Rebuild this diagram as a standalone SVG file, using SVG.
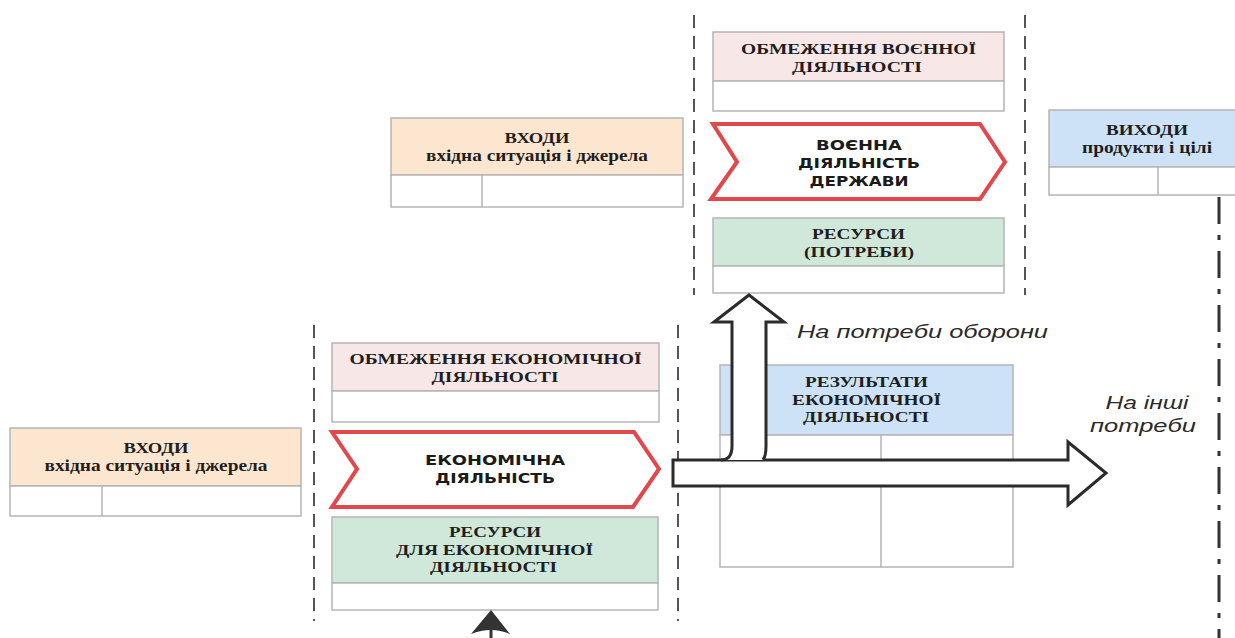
<svg xmlns="http://www.w3.org/2000/svg" width="1235" height="638" viewBox="0 0 1235 638">
<style>
.bx{stroke:#b5b5b5;stroke-width:1.5;fill:#fff}
.pink{fill:#f8e7e7;stroke:#b5b5b5;stroke-width:1.5}
.peach{fill:#fde6cf;stroke:#b5b5b5;stroke-width:1.5}
.green{fill:#cfe8d9;stroke:#b5b5b5;stroke-width:1.5}
.blue{fill:#cde2f6;stroke:#b5b5b5;stroke-width:1.5}
.ln{stroke:#b5b5b5;stroke-width:1.5;fill:none}
.chev{fill:#fff;stroke:#e2474b;stroke-width:4;stroke-linejoin:miter}
.hd{font-family:"Liberation Serif","Times New Roman",serif;font-weight:bold;font-size:15px;fill:#1e1e1e;text-anchor:middle}
.sub{font-family:"Liberation Serif","Times New Roman",serif;font-weight:bold;font-size:16px;fill:#1e1e1e;text-anchor:middle}
.ch{font-family:"DejaVu Sans",Verdana,sans-serif;font-weight:bold;font-size:14px;fill:#1a1a1a;text-anchor:middle}
.it{font-family:"Liberation Sans",Arial,sans-serif;font-style:italic;font-size:18px;fill:#2a2a2a;text-anchor:middle}
.dash{stroke:#555;stroke-width:2;stroke-dasharray:13 8;fill:none}
.dashdot{stroke:#333;stroke-width:3;stroke-dasharray:27 11 5 11;fill:none}
.arr{fill:#fff;stroke:#2b2b2b;stroke-width:3;stroke-linejoin:miter}
</style>

<g id="boundaries">
<line class="dash" x1="694" y1="15" x2="694" y2="295"/>
<line class="dash" x1="1025" y1="15" x2="1025" y2="295"/>
<line class="dash" x1="314" y1="325" x2="314" y2="621"/>
<line class="dash" x1="678" y1="325" x2="678" y2="621"/>
<line class="dashdot" x1="1219" y1="197" x2="1219" y2="638"/>
</g>

<g id="top-inputs">
<rect class="peach" x="391" y="118" width="292" height="57"/>
<rect class="bx" x="391" y="175" width="292" height="32"/>
<line class="ln" x1="482" y1="175" x2="482" y2="207"/>
<text class="hd" x="537" y="143" textLength="65" lengthAdjust="spacingAndGlyphs">ВХОДИ</text>
<text class="sub" x="537" y="161" textLength="222" lengthAdjust="spacingAndGlyphs">вхідна ситуація і джерела</text>
</g>

<g id="military-constraints">
<rect class="pink" x="713" y="32" width="291" height="49"/>
<rect class="bx" x="713" y="81" width="291" height="30"/>
<text class="hd" x="858.5" y="54" textLength="235" lengthAdjust="spacingAndGlyphs">ОБМЕЖЕННЯ ВОЄННОЇ</text>
<text class="hd" x="857" y="72" textLength="130" lengthAdjust="spacingAndGlyphs">ДІЯЛЬНОСТІ</text>
</g>

<g id="military-activity">
<path class="chev" d="M713,124 L980,124 L1005,162 L980,199 L711,199 L737,162 Z"/>
<text class="ch" x="859" y="150" textLength="86" lengthAdjust="spacingAndGlyphs">ВОЄННА</text>
<text class="ch" x="859" y="168" textLength="122" lengthAdjust="spacingAndGlyphs">ДІЯЛЬНІСТЬ</text>
<text class="ch" x="859" y="186" textLength="99" lengthAdjust="spacingAndGlyphs">ДЕРЖАВИ</text>
</g>

<g id="military-resources">
<rect class="green" x="713" y="218" width="291" height="48"/>
<rect class="bx" x="713" y="266" width="291" height="27"/>
<text class="hd" x="858.5" y="239" textLength="93" lengthAdjust="spacingAndGlyphs">РЕСУРСИ</text>
<text class="hd" x="859" y="257" textLength="110" lengthAdjust="spacingAndGlyphs">(ПОТРЕБИ)</text>
</g>

<g id="outputs">
<rect class="blue" x="1049" y="110" width="200" height="57"/>
<rect class="bx" x="1049" y="167" width="200" height="28"/>
<line class="ln" x1="1158" y1="167" x2="1158" y2="195"/>
<text class="hd" x="1147" y="135" textLength="82" lengthAdjust="spacingAndGlyphs">ВИХОДИ</text>
<text class="sub" x="1147" y="153" textLength="130" lengthAdjust="spacingAndGlyphs">продукти і цілі</text>
</g>

<g id="left-inputs">
<rect class="peach" x="10" y="428" width="291" height="58"/>
<rect class="bx" x="10" y="486" width="291" height="30"/>
<line class="ln" x1="102" y1="486" x2="102" y2="516"/>
<text class="hd" x="156" y="453" textLength="65" lengthAdjust="spacingAndGlyphs">ВХОДИ</text>
<text class="sub" x="156" y="471" textLength="223" lengthAdjust="spacingAndGlyphs">вхідна ситуація і джерела</text>
</g>

<g id="economic-constraints">
<rect class="pink" x="332" y="343" width="327" height="48"/>
<rect class="bx" x="332" y="391" width="327" height="31"/>
<text class="hd" x="495.5" y="364" textLength="292" lengthAdjust="spacingAndGlyphs">ОБМЕЖЕННЯ ЕКОНОМІЧНОЇ</text>
<text class="hd" x="495" y="382" textLength="127" lengthAdjust="spacingAndGlyphs">ДІЯЛЬНОСТІ</text>
</g>

<g id="economic-activity">
<path class="chev" d="M332,432 L634,432 L659,469 L633,507 L332,507 L357,469 Z"/>
<text class="ch" x="495" y="465" textLength="140" lengthAdjust="spacingAndGlyphs">ЕКОНОМІЧНА</text>
<text class="ch" x="495" y="483" textLength="120" lengthAdjust="spacingAndGlyphs">ДІЯЛЬНІСТЬ</text>
</g>

<g id="economic-resources">
<rect class="green" x="332" y="517" width="326" height="66"/>
<rect class="bx" x="332" y="583" width="326" height="27"/>
<text class="hd" x="495" y="537" textLength="92" lengthAdjust="spacingAndGlyphs">РЕСУРСИ</text>
<text class="hd" x="494.5" y="555" textLength="197" lengthAdjust="spacingAndGlyphs">ДЛЯ ЕКОНОМІЧНОЇ</text>
<text class="hd" x="493.5" y="572" textLength="127" lengthAdjust="spacingAndGlyphs">ДІЯЛЬНОСТІ</text>
</g>

<g id="economic-results">
<rect class="blue" x="720" y="365" width="293" height="70"/>
<rect class="bx" x="720" y="435" width="293" height="132"/>
<line class="ln" x1="881" y1="435" x2="881" y2="567"/>
<text class="hd" x="866.5" y="387" textLength="123" lengthAdjust="spacingAndGlyphs">РЕЗУЛЬТАТИ</text>
<text class="hd" x="866.5" y="405" textLength="149" lengthAdjust="spacingAndGlyphs">ЕКОНОМІЧНОЇ</text>
<text class="hd" x="866" y="422" textLength="126" lengthAdjust="spacingAndGlyphs">ДІЯЛЬНОСТІ</text>
</g>

<g id="connectors">
<path class="arr" d="M673,460 L1068,460 L1068,442 L1106,473 L1068,505 L1068,486 L673,486 Z"/>
<path class="arr" d="M721,460 Q732,460 732,446 L732,322 L714,322 L749,295 L784,322 L766,322 L766,446 Q766,456 763,460"/>
<path d="M491,610 L510,634 Q491,626 471,634 Z" fill="#333"/>
<line x1="491" y1="630" x2="491" y2="638" stroke="#333" stroke-width="3"/>
<text class="it" x="922.5" y="338" textLength="251" lengthAdjust="spacingAndGlyphs">На потреби оборони</text>
<text class="it" x="1147" y="409" textLength="83" lengthAdjust="spacingAndGlyphs">На інші</text>
<text class="it" x="1143" y="432" textLength="106" lengthAdjust="spacingAndGlyphs">потреби</text>
</g>
</svg>
